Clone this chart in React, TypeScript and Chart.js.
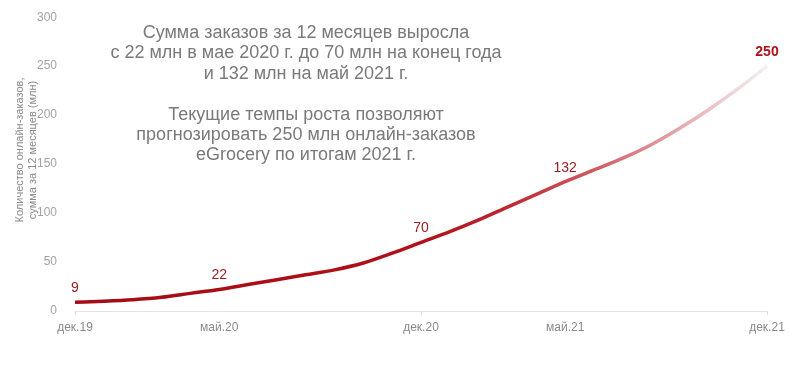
import React, { useEffect, useRef } from "react";
import { Chart, registerables } from "chart.js";

Chart.register(...registerables);

const months = [
  "дек.19", "янв.20", "фев.20", "мар.20", "апр.20", "май.20", "июн.20", "июл.20", "авг.20", "сен.20", "окт.20", "ноя.20",
  "дек.20", "янв.21", "фев.21", "мар.21", "апр.21", "май.21", "июн.21", "июл.21", "авг.21", "сен.21", "окт.21", "ноя.21", "дек.21",
];
const orders = [9, 10, 11.5, 14, 18, 22, 27, 32, 37, 42, 49, 59, 70, 81, 93, 106, 119, 132, 144, 156, 170, 187, 206, 227, 250];
const shownTickIdx = [0, 5, 12, 17, 24];
const markedTickIdx = [0, 12, 24];
const labelIdx = [0, 5, 12, 17, 24];
const labelText = ["9", "22", "70", "132", "250"];
const noteLines = [
  "Сумма заказов за 12 месяцев выросла",
  "с 22 млн в мае 2020 г. до 70 млн на конец года",
  "и 132 млн на май 2021 г.",
  "",
  "Текущие темпы роста позволяют",
  "прогнозировать 250 млн онлайн-заказов",
  "eGrocery по итогам 2021 г.",
];
const yTitleLines = ["Количество онлайн-заказов,", "сумма за 12 месяцев (млн)"];

const FONT = "'Liberation Sans', Arial, sans-serif";

const annotPlugin = {
  id: "annot",
  afterDatasetsDraw(chart: any) {
    const ctx = chart.ctx;
    const meta = chart.getDatasetMeta(0);
    ctx.save();
    // data labels
    labelIdx.forEach((idx, i) => {
      const pt = meta.data[idx];
      const last = i === labelIdx.length - 1;
      ctx.font = `${last ? "bold " : ""}14px ${FONT}`;
      ctx.fillStyle = last ? "#b0101a" : "#9a1a1e";
      ctx.textAlign = "center";
      ctx.textBaseline = "middle";
      ctx.fillText(labelText[i], pt.x, pt.y - 14);
    });
    // note text
    ctx.font = `18px ${FONT}`;
    ctx.fillStyle = "#7a7a7a";
    ctx.textAlign = "center";
    ctx.textBaseline = "middle";
    noteLines.forEach((line, i) => {
      if (line) ctx.fillText(line, 306, 33 + i * 20.4);
    });
    // y title
    ctx.font = `11px ${FONT}`;
    ctx.fillStyle = "#8a8a8a";
    yTitleLines.forEach((line, i) => {
      ctx.save();
      ctx.translate(20 + i * 13, 150);
      ctx.rotate(-Math.PI / 2);
      ctx.fillText(line, 0, 0);
      ctx.restore();
    });
    ctx.restore();
  },
};

export default function App() {
  const ref = useRef<HTMLCanvasElement>(null);
  useEffect(() => {
    document.body.style.margin = "0";
    const chart = new Chart(ref.current!, {
      type: "line",
      data: {
        labels: months,
        datasets: [
          {
            data: orders,
            borderWidth: 3.5,
            pointRadius: 0,
            tension: 0.4,
            cubicInterpolationMode: "monotone",
            borderColor: (c: any) => {
              const ca = c.chart.chartArea;
              if (!ca) return "#a50d16";
              const g = c.chart.ctx.createLinearGradient(ca.left, 0, ca.right, 0);
              g.addColorStop(0, "#a30c15");
              g.addColorStop(0.5, "#b0111a");
              g.addColorStop(0.62, "#bd262f");
              g.addColorStop(0.75, "#cf5a61");
              g.addColorStop(0.88, "#e6acb0");
              g.addColorStop(1, "#f3f0f3");
              return g;
            },
          } as any,
        ],
      },
      options: {
        animation: false,
        responsive: false,
        layout: { padding: { left: 0, right: 33, top: 13, bottom: 0 } },
        plugins: { legend: { display: false }, tooltip: { enabled: false } },
        scales: {
          x: {
            type: "category",
            offset: false,
            afterFit: (s: any) => { s.height = 58; },
            grid: {
              drawOnChartArea: false,
              tickLength: 4,
              tickColor: (c: any) => (markedTickIdx.includes(c.index) ? "#dcdcdc" : "rgba(0,0,0,0)"),
            },
            border: { display: true, color: "#e3e3e3", width: 1 },
            ticks: {
              autoSkip: false,
              maxRotation: 0,
              padding: 5,
              color: "#8a8a8a",
              font: { family: FONT, size: 12 },
              callback: (_v: any, i: number) => (shownTickIdx.includes(i) ? months[i] : ""),
            },
          },
          y: {
            min: 0,
            max: 300,
            afterFit: (s: any) => { s.width = 75; },
            grid: { display: false },
            border: { display: false },
            ticks: {
              stepSize: 50,
              padding: 10,
              color: "#a3a3a3",
              font: { family: FONT, size: 12 },
            },
          },
        },
      },
      plugins: [annotPlugin],
    } as any);
    return () => chart.destroy();
  }, []);
  return <canvas ref={ref} width={800} height={369} />;
}
